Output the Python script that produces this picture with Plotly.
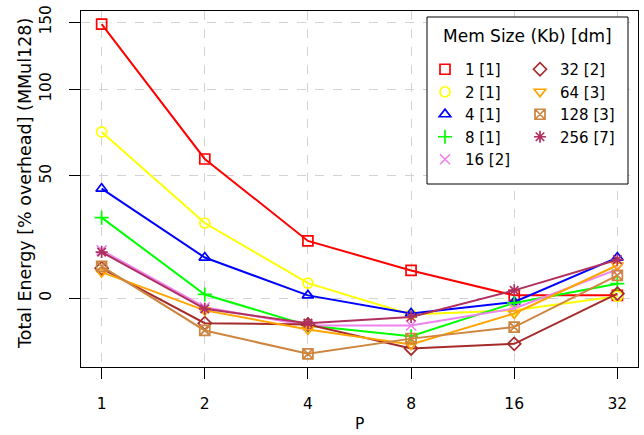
import numpy as np
import plotly.graph_objects as go

P = [1, 2, 4, 8, 16, 32]
tick_labels = ["1", "2", "4", "8", "16", "32"]

s1 = [148.3, 58.7, 20.9, 9.6, 0.9, 0.9]
s2 = [73.6, 28.3, 5.1, -5.3, -4.0, 0.6]
s4 = [43.8, 14.4, 0.9, -5.0, -1.3, 14.4]
s8 = [30.6, 1.2, -8.7, -11.9, -1.6, 4.9]
s16 = [17.2, -3.0, -8.7, -8.7, -3.4, 10.0]
s32 = [10.4, -8.0, -8.4, -15.4, -14.1, 1.5]
s64 = [9.0, -4.0, -9.9, -14.3, -5.0, 11.5]
s128 = [11.1, -10.2, -16.9, -12.6, -9.2, 7.8]
s256 = [16.5, -3.5, -8.0, -6.1, 2.6, 13.6]

y_ticks = [0, 50, 100, 150]

series = [
    ("1 [1]", s1, "#FF0000", "square-open", "legend"),
    ("2 [1]", s2, "#FFFF00", "circle-open", "legend"),
    ("4 [1]", s4, "#0000FF", "triangle-up-open", "legend"),
    ("8 [1]", s8, "#00FF00", "cross-thin-open", "legend"),
    ("16 [2]", s16, "#EE82EE", "x-thin-open", "legend"),
    ("32 [2]", s32, "#A52A2A", "diamond-open", "legend2"),
    ("64 [3]", s64, "#FFA500", "triangle-down-open", "legend2"),
    ("128 [3]", s128, "#CD853F", "square-x-open", "legend2"),
    ("256 [7]", s256, "#B03060", "asterisk-open", "legend2"),
]

FONT = "DejaVu Sans, sans-serif"
fig = go.Figure()
for name, vals, col, sym, lg in series:
    yy = [v + 100 for v in vals]
    fig.add_trace(go.Scatter(x=P, y=yy, mode="lines", line=dict(color=col, width=2),
                             showlegend=False, hoverinfo="skip"))
    fig.add_trace(go.Scatter(x=P, y=yy, mode="markers", name=name, legend=lg,
                             marker=dict(symbol=sym, size=10, color=col,
                                         line=dict(color=col, width=1.7))))

all_vals = np.array(s1 + s2 + s4 + s8 + s16 + s32 + s64 + s128 + s256) + 100
lo, hi = np.log10(all_vals.min()), np.log10(all_vals.max())
pad = 0.04 * (hi - lo)
xlo, xhi = np.log10(P[0]), np.log10(P[-1])
xpad = 0.04 * (xhi - xlo)

axis_common = dict(showline=True, mirror=True, linecolor="black", linewidth=1,
                   ticks="outside", ticklen=11, tickcolor="black", tickwidth=1,
                   showgrid=True, gridcolor="#D3D3D3", griddash="dash", gridwidth=1,
                   zeroline=False, automargin=False,
                   tickfont=dict(family=FONT, size=15.5, color="black"))

L, R, T, B = 81, 6, 11, 68
W, H = 644, 435
pw, ph = W - L - R, H - T - B
px = lambda x: (x - L) / pw
py = lambda y: (H - B - y) / ph

legend_common = dict(xanchor="left", yanchor="top", orientation="v",
                     bgcolor="rgba(0,0,0,0)", borderwidth=0,
                     font=dict(family=FONT, size=15, color="black"))

fig.update_layout(
    width=W, height=H, autosize=False,
    margin=dict(l=L, r=R, t=T, b=B),
    paper_bgcolor="white", plot_bgcolor="white",
    font=dict(family=FONT, color="black"),
    xaxis=dict(type="log", range=[xlo - xpad, xhi + xpad], tickvals=P, ticktext=tick_labels,
               ticklabelstandoff=11, **axis_common),
    yaxis=dict(type="log", range=[lo - pad, hi + pad],
               tickvals=[t + 100 for t in y_ticks], ticktext=[str(t) for t in y_ticks],
               tickangle=-90, ticklabelstandoff=12, **axis_common),
    legend=dict(x=px(425), y=py(53), **legend_common),
    legend2=dict(x=px(520), y=py(53), **legend_common),
    shapes=[dict(type="rect", xref="paper", yref="paper", x0=px(427), x1=px(628),
                 y0=py(184), y1=py(17), fillcolor="white", line=dict(color="black", width=1),
                 layer="above")],
    annotations=[
        dict(text="Mem Size (Kb) [dm]", xref="paper", yref="paper", x=px(527), y=py(36),
             xanchor="center", yanchor="middle", showarrow=False,
             font=dict(family=FONT, size=17, color="black")),
        dict(text="P", xref="paper", yref="paper", x=px(359.5), y=py(424),
             xanchor="center", yanchor="middle", showarrow=False,
             font=dict(family=FONT, size=15.5, color="black")),
        dict(text="Total Energy [% overhead] (MMul128)", xref="paper", yref="paper",
             x=px(25), y=py(184), textangle=-90, xanchor="center", yanchor="middle",
             showarrow=False, font=dict(family=FONT, size=17.5, color="black")),
    ],
)

fig.write_html("out.html", config={"displayModeBar": False},
               post_script="document.body.style.margin='0';document.body.style.padding='0';")
